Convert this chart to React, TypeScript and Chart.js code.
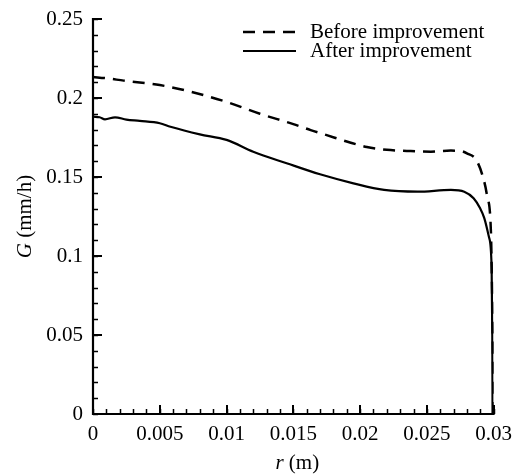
import React, { useEffect, useRef } from "react";
import { Chart, registerables } from "chart.js";

Chart.register(...registerables);

// r (m) and G (mm/h)
const rBefore = [0, 0.001, 0.0023, 0.005, 0.0073, 0.01, 0.0125, 0.015, 0.0163, 0.0175, 0.0193, 0.0205, 0.022, 0.0235, 0.0253, 0.0268, 0.0275, 0.028, 0.0287, 0.0292, 0.0295, 0.0298, 0.02985, 0.0299, 0.03];
const gBefore = [0.2133, 0.2125, 0.211, 0.2082, 0.204, 0.1975, 0.19, 0.1835, 0.1797, 0.1765, 0.1717, 0.169, 0.1672, 0.1665, 0.166, 0.1667, 0.1665, 0.165, 0.1608, 0.15, 0.1385, 0.115, 0.095, 0.07, 0];

const rAfter = [0, 0.0005, 0.0009, 0.00165, 0.0025, 0.0035, 0.005, 0.0058, 0.008, 0.01, 0.012, 0.0145, 0.017, 0.0195, 0.0218, 0.0243, 0.0268, 0.0278, 0.0285, 0.029, 0.0293, 0.02965, 0.02985, 0.0299, 0.02992];
const gAfter = [0.1882, 0.1878, 0.1865, 0.1878, 0.1863, 0.1855, 0.184, 0.1818, 0.177, 0.1735, 0.166, 0.1587, 0.1517, 0.146, 0.1418, 0.1407, 0.1418, 0.1407, 0.1365, 0.13, 0.124, 0.112, 0.093, 0.05, 0];

const xTicks = [0, 0.005, 0.01, 0.015, 0.02, 0.025, 0.03];
const yTicks = [0, 0.05, 0.1, 0.15, 0.2, 0.25];
const xMinorStep = 0.001;
const yMinorStep = 0.01;
const seriesLabels = ["Before improvement", "After improvement"];

const FONT = "'Liberation Serif', 'Times New Roman', serif";
const FS = 21;

const fmt = (v: number) => String(Number(v.toFixed(5)));

const axesPlugin = {
  id: "customAxes",
  beforeDatasetsDraw(chart: any) {
    const { ctx, chartArea } = chart;
    const { left, right, top, bottom } = chartArea;
    const xs = chart.scales.x;
    const ys = chart.scales.y;
    ctx.save();
    ctx.strokeStyle = "#000";
    ctx.lineCap = "butt";
    // minor ticks
    ctx.lineWidth = 1.5;
    ctx.beginPath();
    for (let v = 0; v <= xs.max + 1e-9; v += xMinorStep) {
      const p = Math.round(xs.getPixelForValue(v)) + 0.5;
      ctx.moveTo(p, bottom);
      ctx.lineTo(p, bottom - 5);
    }
    for (let v = 0; v <= ys.max + 1e-9; v += yMinorStep) {
      const p = Math.round(ys.getPixelForValue(v)) + 0.5;
      ctx.moveTo(left, p);
      ctx.lineTo(left + 5, p);
    }
    ctx.stroke();
    // major ticks
    ctx.lineWidth = 2;
    ctx.beginPath();
    xTicks.forEach((v) => {
      const p = Math.round(xs.getPixelForValue(v));
      ctx.moveTo(p, bottom);
      ctx.lineTo(p, bottom - 9);
    });
    yTicks.forEach((v) => {
      const p = Math.round(ys.getPixelForValue(v));
      ctx.moveTo(left, p);
      ctx.lineTo(left + 9, p);
    });
    ctx.stroke();
    // axis lines
    ctx.lineWidth = 2.2;
    ctx.beginPath();
    ctx.moveTo(left, top - 1);
    ctx.lineTo(left, bottom);
    ctx.lineTo(right + 1, bottom);
    ctx.stroke();
    ctx.restore();
  },
  afterDraw(chart: any) {
    const { ctx, chartArea } = chart;
    const { left, right, top, bottom } = chartArea;
    ctx.save();
    ctx.fillStyle = "#000";
    ctx.textBaseline = "alphabetic";
    // x title: italic r + (m)
    const italic = `italic ${FS}px ${FONT}`;
    const normal = `${FS}px ${FONT}`;
    ctx.font = italic;
    const wR = ctx.measureText("r").width;
    ctx.font = normal;
    const wM = ctx.measureText(" (m)").width;
    const cx = (left + right) / 2 + 4;
    const xStart = cx - (wR + wM) / 2;
    ctx.font = italic;
    ctx.fillText("r", xStart, bottom + 55);
    ctx.font = normal;
    ctx.fillText(" (m)", xStart + wR, bottom + 55);

    // y title: italic G + (mm/h), rotated
    ctx.save();
    ctx.translate(31, (top + bottom) / 2);
    ctx.rotate(-Math.PI / 2);
    ctx.font = italic;
    const wG = ctx.measureText("G").width;
    ctx.font = normal;
    const wU = ctx.measureText(" (mm/h)").width;
    const ys0 = -(wG + wU) / 2;
    ctx.font = italic;
    ctx.fillText("G", ys0, 0);
    ctx.font = normal;
    ctx.fillText(" (mm/h)", ys0 + wG, 0);
    ctx.restore();

    // legend
    const lx0 = 243;
    const lx1 = 296;
    const tx = 310;
    const rows = [38, 57];
    chart.data.datasets.forEach((ds: any, i: number) => {
      const yb = rows[i];
      ctx.save();
      ctx.strokeStyle = "#000";
      ctx.lineWidth = ds.borderWidth;
      ctx.setLineDash(ds.borderDash || []);
      ctx.beginPath();
      ctx.moveTo(lx0, yb - 6);
      ctx.lineTo(lx1, yb - 6);
      ctx.stroke();
      ctx.restore();
      ctx.font = normal;
      ctx.fillText(ds.label, tx, yb);
    });
    ctx.restore();
  },
};

export default function App() {
  const ref = useRef<HTMLCanvasElement | null>(null);
  useEffect(() => {
    if (!ref.current) return;
    const chart = new Chart(ref.current, {
      type: "line",
      data: {
        datasets: [
          {
            label: seriesLabels[0],
            data: rBefore.map((r, i) => ({ x: r, y: gBefore[i] })),
            borderColor: "#000",
            borderWidth: 2.5,
            borderDash: [12, 8],
            pointRadius: 0,
            fill: false,
            cubicInterpolationMode: "monotone",
          },
          {
            label: seriesLabels[1],
            data: rAfter.map((r, i) => ({ x: r, y: gAfter[i] })),
            borderColor: "#000",
            borderWidth: 2.2,
            pointRadius: 0,
            fill: false,
            cubicInterpolationMode: "monotone",
          },
        ],
      },
      options: {
        responsive: false,
        animation: false,
        layout: { padding: { top: 19, right: 16, left: 0, bottom: 0 } },
        plugins: { legend: { display: false }, tooltip: { enabled: false } },
        scales: {
          x: {
            type: "linear",
            min: 0,
            max: 0.03,
            grid: { display: false },
            border: { display: false },
            afterBuildTicks: (s: any) => {
              s.ticks = xTicks.map((v) => ({ value: v }));
            },
            afterFit: (s: any) => {
              s.height = 61;
            },
            ticks: {
              color: "#000",
              font: { family: FONT, size: FS },
              padding: 0,
              maxRotation: 0,
              autoSkip: false,
              callback: (v: any) => fmt(Number(v)),
            },
          },
          y: {
            type: "linear",
            min: 0,
            max: 0.25,
            grid: { display: false },
            border: { display: false },
            afterBuildTicks: (s: any) => {
              s.ticks = yTicks.map((v) => ({ value: v }));
            },
            afterFit: (s: any) => {
              s.width = 93;
            },
            ticks: {
              color: "#000",
              font: { family: FONT, size: FS },
              padding: 2,
              autoSkip: false,
              callback: (v: any) => fmt(Number(v)),
            },
          },
        },
      },
      plugins: [axesPlugin],
    } as any);
    return () => chart.destroy();
  }, []);
  return (
    <div style={{ position: "fixed", left: 0, top: 0, width: 512, height: 475, background: "#fff" }}>
      <canvas ref={ref} width={512} height={475} style={{ display: "block" }} />
    </div>
  );
}
